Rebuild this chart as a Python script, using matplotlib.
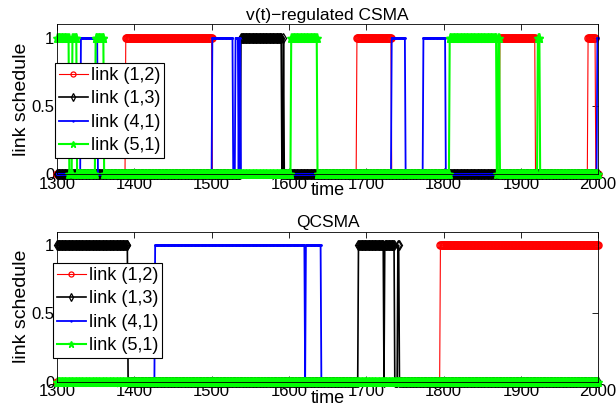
import numpy as np
import matplotlib
matplotlib.use('Agg')
import matplotlib.pyplot as plt

plt.rcParams['font.family'] = ['Liberation Sans', 'DejaVu Sans']

# ---- data (on-intervals, inclusive time steps) ----
t_start, t_end = 1300, 2000
time_ticks = [1300, 1400, 1500, 1600, 1700, 1800, 1900, 2000]
y_ticks = [0, 0.5, 1]
y_ticklabels = ['0', '0.5', '1']
link_labels = ['link (1,2)', 'link (1,3)', 'link (4,1)', 'link (5,1)']
titles = ['v(t)\u2212regulated CSMA', 'QCSMA']

top_link12_on = [(1389, 1500), (1688, 1732), (1873, 1918), (1987, 1996)]
top_link13_on = [(1538, 1590), (1593, 1593)]
top_link41_on = [(1331, 1352), (1501, 1527), (1531, 1534), (1536, 1537),
                 (1733, 1750), (1774, 1802), (1999, 2000)]
top_link51_on = [(1300, 1315), (1320, 1325), (1350, 1360), (1603, 1636),
                 (1808, 1868), (1871, 1872), (1922, 1924)]

bot_link12_on = [(1796, 2000)]
bot_link13_on = [(1300, 1391), (1690, 1722), (1724, 1736), (1741, 1742)]
bot_link41_on = [(1427, 1620), (1622, 1641)]
bot_link51_on = []

panels = [
    [top_link12_on, top_link13_on, top_link41_on, top_link51_on],
    [bot_link12_on, bot_link13_on, bot_link41_on, bot_link51_on],
]

time = np.arange(t_start, t_end + 1)


def schedule(intervals):
    y = np.zeros(time.shape)
    for a, b in intervals:
        y[(time >= a) & (time <= b)] = 1
    return y


styles = [
    dict(color=(1, 0, 0), marker='o', mfc='none', ms=5.2, mew=0.9, lw=0.8),
    dict(color=(0, 0, 0), marker='d', mfc='none', ms=5.2, mew=0.9, lw=1.2),
    dict(color=(0, 0, 1), marker='.', ms=2, lw=1.3),
    dict(color=(0, 1, 0), marker='*', ms=6.5, mew=1.0, lw=1.5),
]

fig = plt.figure(figsize=(6.16, 4.09), dpi=100)
axes_rects = [[0.0925, 0.5746, 0.8785, 0.366],
              [0.0925, 0.0667, 0.8785, 0.367]]
legend_anchor = [(-0.003, 0.739), (-0.007, 0.789)]

for k, (rect, series) in enumerate(zip(axes_rects, panels)):
    ax = fig.add_axes(rect)
    for intervals, st, lab in zip(series, styles, link_labels):
        ax.plot(time, schedule(intervals), label=lab, clip_on=False, **st)
    ax.set_xlim(t_start, t_end)
    ax.set_ylim(0, 1.1)
    ax.set_xticks(time_ticks)
    ax.set_yticks(y_ticks)
    ax.set_yticklabels(y_ticklabels)
    ax.tick_params(direction='in', length=4, width=0.6, top=True, right=True,
                   labelsize=12, pad=2)
    for sp in ax.spines.values():
        sp.set_linewidth(0.6)
    ax.set_title(titles[k], fontsize=12.5, pad=3)
    ax.set_xlabel('time', fontsize=13, labelpad=-7)
    ax.set_ylabel('link schedule', fontsize=14, labelpad=1)
    leg = ax.legend(loc='upper left', bbox_to_anchor=legend_anchor[k],
                    borderaxespad=0, fontsize=13, handlelength=1.6,
                    handletextpad=0.2, labelspacing=0.36, borderpad=0.2,
                    markerscale=0.7,
                    fancybox=False, framealpha=1, edgecolor='black')
    leg.get_frame().set_linewidth(0.8)

fig.savefig('out.png', dpi=100)
